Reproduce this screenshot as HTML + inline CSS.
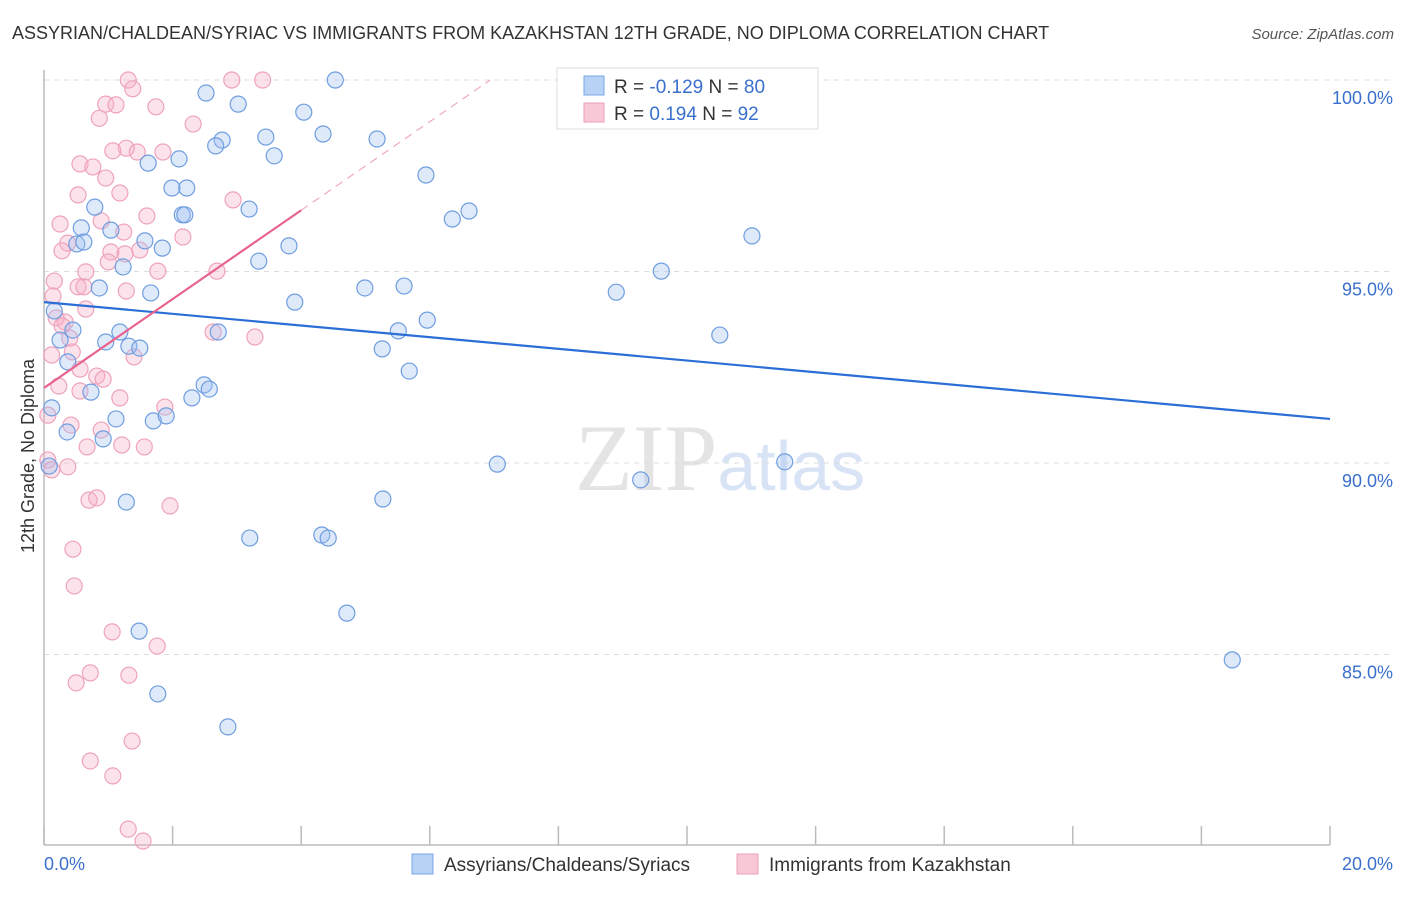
<!DOCTYPE html>
<html><head><meta charset="utf-8"><style>
body{margin:0;background:#fff;font-family:"Liberation Sans",sans-serif}
svg text{font-family:"Liberation Sans",sans-serif}
</style></head><body>
<svg id="chart" width="1406" height="892" xmlns="http://www.w3.org/2000/svg">
<text x="12" y="39" font-size="18" fill="#333">ASSYRIAN/CHALDEAN/SYRIAC VS IMMIGRANTS FROM KAZAKHSTAN 12TH GRADE, NO DIPLOMA CORRELATION CHART</text>
<text x="1394" y="39" font-size="15" fill="#555" font-style="italic" text-anchor="end">Source: ZipAtlas.com</text>
<text x="720" y="490" font-size="95" text-anchor="middle"><tspan fill="#e4e4e4" font-family="Liberation Serif">ZIP</tspan><tspan fill="#d8e4f6" font-size="70">atlas</tspan></text>
<text transform="translate(34,456) rotate(-90)" font-size="18" fill="#333" text-anchor="middle">12th Grade, No Diploma</text>
<g id="grid"></g><g id="axes"></g><g id="marks"></g><g id="trends"></g>
<g>
<rect x="557" y="68" width="261" height="61" fill="#fff" stroke="#ddd"/>
<rect x="584" y="76" width="20" height="19" fill="#b8d2f6" stroke="#7aa6e6"/>
<rect x="584" y="103" width="20" height="19" fill="#f9c8d6" stroke="#ee9fb8"/>
<text x="614" y="93" font-size="19" fill="#333">R = <tspan fill="#3a70cc">-0.129</tspan>   N = <tspan fill="#3a70cc">80</tspan></text>
<text x="614" y="120" font-size="19" fill="#333">R =   <tspan fill="#3a70cc">0.194</tspan>   N =  <tspan fill="#3a70cc">92</tspan></text>
</g>
<g>
<rect x="412" y="854" width="21" height="20" fill="#b8d2f6" stroke="#7aa6e6"/>
<text x="444" y="871" font-size="19" fill="#333">Assyrians/Chaldeans/Syriacs</text>
<rect x="737" y="854" width="21" height="20" fill="#f9c8d6" stroke="#ee9fb8"/>
<text x="769" y="871" font-size="19" fill="#333">Immigrants from Kazakhstan</text>
</g>
</svg>
<script>
const yTicks=[85,90,95,100];
const yTickLabels=["85.0%","90.0%","95.0%","100.0%"];
const xTicks=[0,2,4,6,8,10,12,14,16,18,20];
const blueX=[4.53,2.52,3.02,4.04,3.45,4.34,5.18,2.77,2.67,3.58,1.62,2.10,5.94,1.99,2.22,0.79,2.15,3.19,6.61,6.35,0.58,1.04,11.01,1.57,0.51,0.62,1.84,3.81,3.34,1.23,9.60,0.86,1.66,4.99,5.60,8.90,3.90,0.16,5.96,10.51,0.45,1.18,2.71,5.51,0.25,0.96,1.32,1.49,5.26,0.37,5.68,2.49,2.57,0.73,2.30,0.12,1.12,1.70,1.90,0.36,0.92,0.08,7.05,11.52,9.28,1.28,5.27,3.20,4.32,4.42,4.71,1.48,18.48,1.77,2.86,2.19];
const blueY=[100.0,99.66,99.37,99.16,98.51,98.59,98.46,98.43,98.28,98.02,97.83,97.94,97.52,97.18,97.18,96.68,96.48,96.63,96.58,96.37,96.14,96.08,95.93,95.80,95.72,95.77,95.61,95.67,95.27,95.12,95.01,94.57,94.44,94.57,94.62,94.46,94.20,93.97,93.73,93.34,93.47,93.42,93.42,93.45,93.21,93.16,93.05,93.00,92.98,92.64,92.40,92.04,91.93,91.85,91.70,91.44,91.15,91.10,91.23,90.81,90.63,89.92,89.97,90.03,89.56,88.98,89.06,88.04,88.12,88.04,86.08,85.61,84.86,83.97,83.11,96.48];
const pinkX=[1.31,2.92,3.40,1.38,0.96,1.12,1.74,0.86,2.32,1.28,1.07,1.45,1.85,0.56,0.76,0.96,1.18,0.53,2.94,1.60,0.25,0.89,1.24,2.16,0.37,1.04,0.28,1.49,0.65,1.77,2.69,1.00,1.26,0.16,0.53,0.62,1.28,0.14,0.65,0.19,0.33,0.28,2.63,3.28,0.40,0.12,0.44,1.40,0.56,0.82,0.92,0.23,0.56,1.18,1.88,0.06,0.89,0.42,1.21,1.56,0.67,0.06,0.37,0.12,0.70,0.82,1.96,0.45,0.47,1.06,1.76,0.72,1.32,0.50,1.37,0.72,1.07,1.31,1.54];
const pinkY=[100.0,100.0,100.0,99.77,99.37,99.35,99.30,99.0,98.85,98.22,98.15,98.12,98.12,97.81,97.73,97.44,97.05,97.0,96.87,96.45,96.24,96.32,96.03,95.90,95.74,95.51,95.54,95.56,94.99,95.01,95.01,95.25,95.46,94.75,94.60,94.60,94.49,94.36,94.02,93.79,93.68,93.58,93.42,93.29,93.26,92.82,92.90,92.77,92.45,92.27,92.19,92.01,91.88,91.70,91.46,91.25,90.86,90.99,90.47,90.42,90.42,90.08,89.90,89.82,89.03,89.09,88.88,87.75,86.79,85.59,85.22,84.52,84.46,84.26,82.74,82.22,81.83,80.44,80.13];
const blueTrendX=[0,20], blueTrendY=[94.2,91.15];
const pinkTrendX=[0,4], pinkTrendY=[91.96,96.6];
const pinkDashX=[4,6.94], pinkDashY=[96.6,100];

const NS="http://www.w3.org/2000/svg";
const L=44,R=1330,T=70,B=845;
const sx=v=>L+(v/20)*(R-L);
const sy=v=>80+(100-v)*38.3;
function mk(tag,attrs,parent){const e=document.createElementNS(NS,tag);for(const k in attrs)e.setAttribute(k,attrs[k]);parent.appendChild(e);return e;}
const grid=document.getElementById('grid'),axes=document.getElementById('axes'),marks=document.getElementById('marks'),trends=document.getElementById('trends');
yTicks.forEach((t,i)=>{
 const g=mk('line',{x1:L,x2:1394,y1:sy(t),y2:sy(t),stroke:'#ddd','stroke-dasharray':'5,5'},grid);
 
 
 const tx=mk('text',{x:1393,y:sy(t)+24,'font-size':18,fill:'#3a70cc','text-anchor':'end'},axes);
 tx.textContent=yTickLabels[i];
 
 
});
const ya=mk('line',{x1:L,x2:L,y1:T,y2:B,stroke:'#bbb','stroke-width':1.5},axes);


const xa=mk('line',{x1:L,x2:R,y1:B,y2:B,stroke:'#bbb','stroke-width':1.5},axes);


xTicks.forEach(t=>{
 const tk=mk('line',{x1:sx(t),x2:sx(t),y1:826,y2:B,stroke:'#bbb','stroke-width':1.5},axes);
 
 
});
const x0=mk('text',{x:44,y:870,'font-size':18,fill:'#3a70cc'},axes);x0.textContent='0.0%';


const x1=mk('text',{x:1393,y:870,'font-size':18,fill:'#3a70cc','text-anchor':'end'},axes);x1.textContent='20.0%';


pinkX.forEach((x,i)=>{
 const c=mk('circle',{cx:sx(x),cy:sy(pinkY[i]),r:8,fill:'rgba(246,176,198,0.35)',stroke:'#eea3bb','stroke-width':1.2},marks);
 
 
});
blueX.forEach((x,i)=>{
 const c=mk('circle',{cx:sx(x),cy:sy(blueY[i]),r:8,fill:'rgba(160,192,240,0.35)',stroke:'#6f9ee0','stroke-width':1.2},marks);
 
 
});
const bt=mk('line',{x1:sx(blueTrendX[0]),y1:sy(blueTrendY[0]),x2:sx(blueTrendX[1]),y2:sy(blueTrendY[1]),stroke:'#2b6fd6','stroke-width':2.2},trends);


const pt=mk('line',{x1:sx(pinkTrendX[0]),y1:sy(pinkTrendY[0]),x2:sx(pinkTrendX[1]),y2:sy(pinkTrendY[1]),stroke:'#e8648f','stroke-width':2.2},trends);


const pd=mk('line',{x1:sx(pinkDashX[0]),y1:sy(pinkDashY[0]),x2:sx(pinkDashX[1]),y2:sy(pinkDashY[1]),stroke:'#eeaac0','stroke-width':1.2,'stroke-dasharray':'8,6'},trends);


</script>
</body></html>
